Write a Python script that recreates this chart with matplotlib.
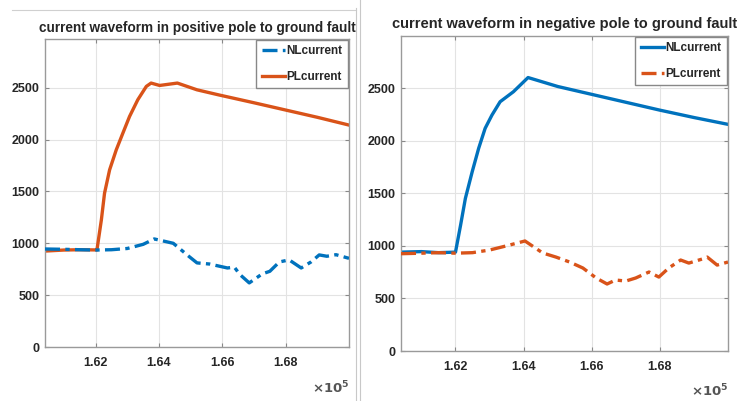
import matplotlib
matplotlib.use("Agg")
import matplotlib.pyplot as plt
from matplotlib.lines import Line2D

# ---------------- data ----------------
# Left panel: positive pole to ground fault
t_left_pl = [160400, 161000, 161500, 162000, 162040, 162180, 162280, 162440, 162650,
             162860, 163070, 163330, 163600, 163750, 164020, 164580, 165200, 165900,
             167000, 168000, 169000, 170000]
v_left_pl = [925, 935, 938, 936, 936, 1226, 1483, 1708, 1901,
             2063, 2223, 2384, 2513, 2545, 2522, 2545, 2480, 2430,
             2355, 2285, 2215, 2140]

t_left_nl = [160400, 161000, 161500, 162000, 162500, 163000, 163500, 163850, 164450,
             164960, 165200, 165600, 166160, 166380, 166550, 166850, 167260, 167500,
             167800, 168110, 168490, 168800, 169060, 169300, 169590, 170000]
v_left_nl = [945, 942, 938, 935, 938, 950, 990, 1042, 1000,
             870, 811, 800, 762, 770, 700, 618, 705, 730,
             820, 840, 762, 820, 888, 875, 890, 855]

# Right panel: negative pole to ground fault
t_right_nl = [160400, 161000, 161500, 162000, 162150, 162290, 162490, 162680, 162870,
              163070, 163310, 163700, 164130, 165000, 166000, 167000, 168000, 169000,
              170000]
v_right_nl = [940, 945, 935, 940, 1198, 1451, 1704, 1927, 2117,
              2243, 2370, 2465, 2600, 2515, 2440, 2365, 2290, 2220,
              2155]

t_right_pl = [160400, 161000, 161500, 162000, 162500, 163000, 163500, 164040, 164560,
              164950, 165350, 165740, 166130, 166450, 166700, 167000, 167290, 167680,
              167970, 168260, 168610, 168850, 169240, 169390, 169680, 170000]
v_right_pl = [925, 930, 935, 930, 935, 960, 1000, 1046, 932,
              893, 846, 789, 694, 637, 675, 665, 694, 751,
              703, 789, 865, 836, 874, 893, 817, 846]

xticks = [162000, 164000, 166000, 168000]
xtick_labels = ["1.62", "1.64", "1.66", "1.68"]
yticks = [0, 500, 1000, 1500, 2000, 2500]
titles = ["current waveform in positive pole to ground fault",
          "current waveform in negative pole to ground fault"]
legend_labels = ["NLcurrent", "PLcurrent"]

BLUE = "#0072BD"
ORANGE = "#D95319"
DASHDOT = (0, (4.5, 1.6, 1.3, 1.6))

plt.rcParams["font.family"] = ["Liberation Sans", "DejaVu Sans"]
plt.rcParams["font.weight"] = "bold"

fig = plt.figure(figsize=(7.45, 4.01), dpi=100)
fig.patch.set_facecolor("white")

W, H = 745.0, 401.0
def rect(x0, y0, x1, y1):
    return [x0 / W, 1 - y1 / H, (x1 - x0) / W, (y1 - y0) / H]

axL = fig.add_axes(rect(45, 39, 349, 347))
axR = fig.add_axes(rect(401, 36, 728, 351))

def style(ax, ytop, title, title_pad, title_size, off_y):
    ax.set_xlim(160400, 170000)
    ax.set_ylim(0, ytop)
    ax.set_xticks(xticks)
    ax.set_xticklabels(xtick_labels)
    ax.set_yticks(yticks)
    ax.tick_params(direction="in", length=3, colors="#888888", labelcolor="#262626",
                   labelsize=9, top=True, right=True, pad=4)
    ax.tick_params(axis="x", pad=7)
    for lab in ax.get_xticklabels() + ax.get_yticklabels():
        lab.set_fontweight("bold")
    ax.grid(True, color="#e3e3e3", linewidth=0.8)
    ax.set_axisbelow(True)
    for s in ax.spines.values():
        s.set_color("#9a9a9a")
        s.set_linewidth(1.0)
    ax.set_title(title, fontsize=title_size, fontweight="bold", color="#262626", pad=title_pad)
    ax.text(1.0, off_y, r"$\times\mathbf{10^5}$", transform=ax.transAxes,
            ha="right", va="center", fontsize=9.5, color="#555555")

def legend(ax, handles):
    leg = ax.legend(handles, legend_labels, loc="upper right", fancybox=False,
                    framealpha=1, edgecolor="#888888", fontsize=8.5, handlelength=2.0,
                    handletextpad=0.1, borderaxespad=0.1, borderpad=0.45,
                    labelspacing=1.15)
    for t in leg.get_texts():
        t.set_fontweight("bold")
        t.set_color("#262626")
    leg.get_frame().set_linewidth(1.0)
    return leg

# Left
l1, = axL.plot(t_left_nl, v_left_nl, color=BLUE, lw=2.4, linestyle=DASHDOT, zorder=3)
l2, = axL.plot(t_left_pl, v_left_pl, color=ORANGE, lw=2.4, zorder=2)
style(axL, 2970, titles[0], 5, 9.85, -(388 - 347) / 308)
legend(axL, [l1, l2])

# Right
r1, = axR.plot(t_right_nl, v_right_nl, color=BLUE, lw=2.4, zorder=2)
r2, = axR.plot(t_right_pl, v_right_pl, color=ORANGE, lw=2.4, linestyle=DASHDOT, zorder=3)
style(axR, 2995, titles[1], 6, 10.5, -(391 - 351) / 315)
legend(axR, [r1, r2])

# decorative borders of the composed image
fig.add_artist(Line2D([12 / W, 356 / W], [1 - 10 / H, 1 - 10 / H], color="#d0d0d0", lw=0.8))
fig.add_artist(Line2D([356 / W, 356 / W], [1 - 8 / H, 0], color="#c8c8c8", lw=0.8))
fig.add_artist(Line2D([359.5 / W, 359.5 / W], [1, 0], color="#c8c8c8", lw=0.8))

fig.savefig("out.png", dpi=100, facecolor="white")
